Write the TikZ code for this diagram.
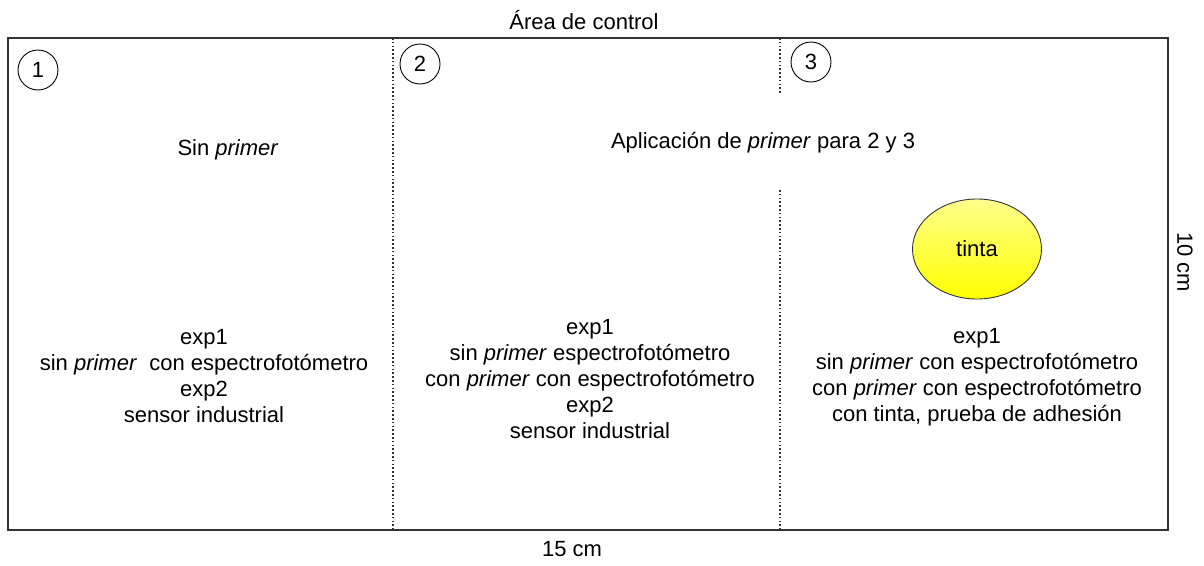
\documentclass[tikz,border=0pt]{standalone}
\usepackage{fontspec}
\setmainfont{Liberation Sans}
\usetikzlibrary{shapes.geometric}
\tikzset{
  lbl/.style={font=\fontsize{22}{26}\selectfont, align=center, inner sep=0pt},
  num/.style={circle, draw=black, line width=0.9pt, minimum size=40pt, inner sep=0pt, font=\fontsize{22}{24}\selectfont},
  frame/.style={draw=black!80, line width=1.4pt},
  sep/.style={draw=black!80, line width=1.3pt, dash pattern=on 1.6pt off 2.2pt},
  inkblob/.style={ellipse, draw=black!80, line width=0.9pt, minimum width=129pt, minimum height=100pt, top color=yellow!45, bottom color=yellow, inner sep=0pt, font=\fontsize{22}{24}\selectfont}
}
\begin{document}
\begin{tikzpicture}[x=1pt,y=-1pt]
\useasboundingbox (0,0) rectangle (1204,565);
\coordinate (tl) at (8,38);
\coordinate (br) at (1168,530);
\draw[frame] (tl) rectangle (br);
\coordinate (s1t) at (393,38);
\coordinate (s1b) at (393,530);
\coordinate (s2t) at (780,38);
\coordinate (s2m) at (780,93);
\coordinate (s2n) at (780,190);
\coordinate (s2b) at (780,530);
\draw[sep] (s1t) -- (s1b);
\draw[sep] (s2t) -- (s2m);
\draw[sep] (s2n) -- (s2b);
\node[num] (c1) at (38,70) {1};
\node[num] (c2) at (420,64) {2};
\node[num] (c3) at (811,62) {3};
\node[lbl] (title) at (584,20) {Área de control};
\node[lbl] (w) at (572,549) {15 cm};
\node[lbl, rotate=-90] (h) at (1185,262) {10 cm};
\node[lbl] (sin) at (228,150) {Sin \textit{primer}};
\node[lbl] (apl) at (763,143) {Aplicación de \textit{primer} para 2 y 3};
\node[inkblob] (ink) at (977,249) {tinta};
\node[lbl] (b1) at (204,376) {exp1\\sin \textit{primer}\ \ con espectrofotómetro\\exp2\\sensor industrial};
\node[lbl] (b2) at (590,379) {exp1\\sin \textit{primer} espectrofotómetro\\con \textit{primer} con espectrofotómetro\\exp2\\sensor industrial};
\node[lbl] (b3) at (977,377) {exp1\\sin \textit{primer} con espectrofotómetro\\con \textit{primer} con espectrofotómetro\\con tinta, prueba de adhesión};
\end{tikzpicture}
\end{document}
